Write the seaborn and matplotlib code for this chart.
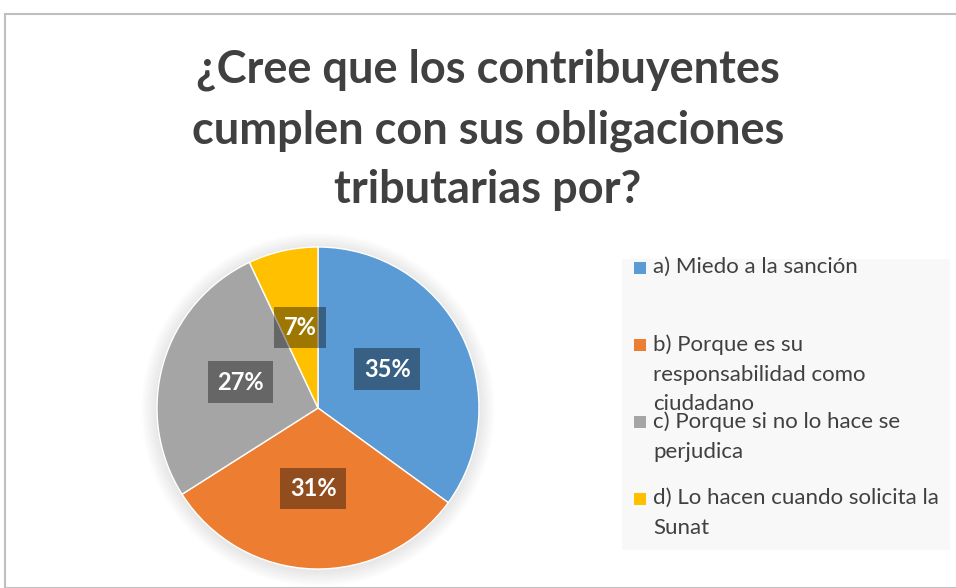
import matplotlib
matplotlib.use("Agg")
import matplotlib.pyplot as plt
import seaborn as sns
from matplotlib.patches import Rectangle, Circle

# data
categories = ["a) Miedo a la sanción",
              "b) Porque es su\nresponsabilidad como\nciudadano",
              "c) Porque si no lo hace se\nperjudica",
              "d) Lo hacen cuando solicita la\nSunat"]
values = [35, 31, 27, 7]
colors = ["#5B9BD5", "#ED7D31", "#A5A5A5", "#FFC000"]
title = "¿Cree que los contribuyentes\ncumplen con sus obligaciones\ntributarias por?"

sns.set_theme(style="white")
plt.rcParams["font.family"] = ["Lato", "DejaVu Sans"]

W, H = 956, 588
fig = plt.figure(figsize=(W / 100, H / 100), dpi=100)

# outer frame
fig.patches.append(Rectangle((5 / W, 0), 1.0, 1 - 14 / H, transform=fig.transFigure,
                             fill=False, edgecolor="#BFBFBF", linewidth=1.5))

fig.text(488 / W, 1 - 130 / H, title, ha="center", va="center", fontsize=32.5,
         fontweight="bold", color="#404040", linespacing=1.52)

# pie axes, center (318, 408), radius 161 px
cx, cy, r = 318, 408, 161
m = 1.12
ax = fig.add_axes([(cx - r * m) / W, (H - cy - r * m) / H, 2 * r * m / W, 2 * r * m / H])
ax.axis("off")

# soft shadow
for i in range(8):
    ax.add_patch(Circle((0, -0.01), 1 + 0.012 * (i + 1), color="black", alpha=0.012, lw=0))

wedges, _ = ax.pie(values, colors=colors, startangle=90, counterclock=False,
                   radius=1, wedgeprops=dict(edgecolor="white", linewidth=1))
ax.set_xlim(-m, m)
ax.set_ylim(-m, m)

label_pos = [(0.43, 0.24), (-0.03, -0.5), (-0.48, 0.16), (-0.11, 0.5)]
for v, (x, y) in zip(values, label_pos):
    ax.text(x, y, f"{v}%", ha="center", va="center", fontsize=17, fontweight="bold",
            color="white",
            bbox=dict(boxstyle="square,pad=0.4", facecolor="black", alpha=0.38, lw=0))

# legend box
fig.patches.append(Rectangle((622 / W, 1 - 550 / H), (950 - 622) / W, (550 - 259) / H,
                             transform=fig.transFigure, facecolor="#F8F8F8", edgecolor="none"))
top = 268
for i, (lab, c) in enumerate(zip(categories, colors)):
    y = top + i * 77
    fig.patches.append(Rectangle((634 / W, 1 - (y + 6) / H), 12 / W, 12 / H,
                                 transform=fig.transFigure, facecolor=c, edgecolor="none"))
    fig.text(653 / W, 1 - (y - 11) / H, lab, ha="left", va="top", fontsize=16,
             color="#404040", linespacing=1.62)

fig.savefig("out.png", dpi=100)
